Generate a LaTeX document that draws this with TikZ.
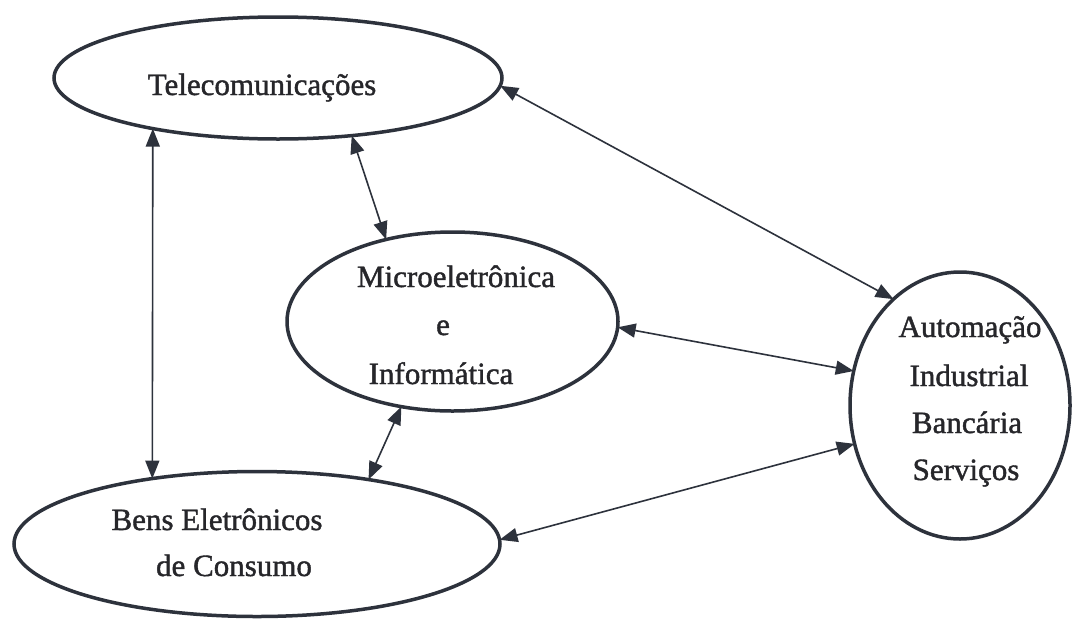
\documentclass[tikz,border=0pt]{standalone}
\usepackage{fontspec}
\setmainfont{Liberation Serif}[RawFeature={embolden=1.3}]
\usetikzlibrary{arrows.meta,shapes.geometric}
\definecolor{ink}{RGB}{45,50,60}
\definecolor{txt}{RGB}{38,38,42}
\begin{document}
\begin{tikzpicture}[x=1pt,y=-1pt,
  oval/.style={ellipse, draw=ink, line width=3.5pt, inner sep=0pt, outer sep=0pt},
  link/.style={draw=ink, line width=1.6pt,
    {Triangle[length=18pt,width=14pt]}-{Triangle[length=18pt,width=14pt]}},
  lbl/.style={text=txt, font=\fontsize{31}{37}\selectfont, anchor=base, inner sep=0pt}]
\useasboundingbox (0,0) rectangle (1075,619);
\fill[white] (0,0) rectangle (1075,619);

% ellipses
\node[oval, minimum width=448pt, minimum height=122pt] (tele) at (278,78) {};
\node[oval, minimum width=331pt, minimum height=179pt] (micro) at (452.5,321.5) {};
\node[oval, minimum width=220pt, minimum height=267pt] (auto) at (960,405.5) {};
\node[oval, minimum width=486pt, minimum height=145pt] (bens) at (257,544) {};

% labels
\node[lbl] (t1) at (262,95) {Telecomunicações};
\node[lbl] (m1) at (456,287) {Microeletrônica};
\node[lbl] (m2) at (443,335) {e};
\node[lbl] (m3) at (441,384) {Informática};
\node[lbl] (a1) at (970,337) {Automação};
\node[lbl] (a2) at (969,386) {Industrial};
\node[lbl] (a3) at (967,433) {Bancária};
\node[lbl] (a4) at (966,480) {Serviços};
\node[lbl] (b1) at (217,530) {Bens Eletrônicos};
\node[lbl] (b2) at (234,576) {de Consumo};

% connectors
\draw[link] (tele.202) -- (bens.148);
\draw[link] (tele.322) -- (micro.129);
\draw[link] (tele.358) -- (auto.122);
\draw[link] (micro.358) -- (auto.162);
\draw[link] (bens.1) -- (auto.200);
\draw[link] (micro.239) -- (bens.30);
\end{tikzpicture}
\end{document}
